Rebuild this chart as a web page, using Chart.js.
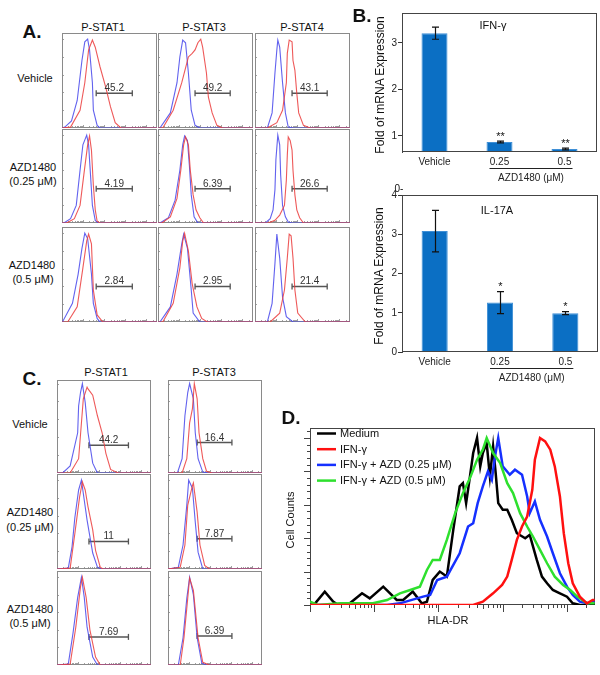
<!DOCTYPE html>
<html><head><meta charset="utf-8">
<script src="https://cdn.jsdelivr.net/npm/chart.js@4.4.1/dist/chart.umd.min.js"></script>
<style>
html,body{margin:0;padding:0;background:#fff}
body{position:relative;width:600px;height:675px;overflow:hidden;font-family:"Liberation Sans",Arial,sans-serif}
canvas{position:absolute}
.t{position:absolute;transform:translate(-50%,-50%);white-space:nowrap;line-height:1;color:#111}
</style></head><body>
<script>
const F='"Liberation Sans", Arial, sans-serif';
Chart.defaults.font.family=F;

// ---------------- Panel A (flow histograms; x = % of axis, y = % of peak) ----------------
const aColTitles=['P-STAT1','P-STAT3','P-STAT4'];
const aRowTitles=[['Vehicle'],['AZD1480','(0.25 μM)'],['AZD1480','(0.5 μM)']];
const aPct=['45.2','49.2','43.1','4.19','6.39','26.6','2.84','2.95','21.4'];
const aGates=[[36,74,39],[39,76,39],[39,76,39],[36,74,39],[39,76,39],[39,76,39],[36,74,40],[39,76,40],[39,76,40]];

const aVehS1Blue=[[0,0],[3,1],[10,8],[16,31],[21,76],[24,97],[27,100],[29,88],[32,51],[33,20],[37,3],[40,0],[100,0]];
const aVehS1Red=[[0,0],[9,1],[19,20],[24,51],[28,88],[32,99],[35,91],[40,69],[46,46],[51,24],[56,6],[62,0],[100,0]];
const aVehS3Blue=[[0,0],[2,0],[13,17],[20,51],[23,80],[26,99],[29,96],[32,62],[35,20],[39,3],[44,0],[100,0]];
const aVehS3Red=[[0,0],[5,0],[16,20],[25,51],[31,76],[32,80],[36,84],[39,88],[42,96],[45,100],[47,91],[51,62],[53,35],[57,17],[62,3],[68,0],[100,0]];
const aVehS4Blue=[[0,0],[13,0],[18,17],[21,62],[23,88],[24,99],[26,91],[29,51],[32,17],[35,1],[40,0],[100,0]];
const aVehS4Red=[[0,0],[13,0],[23,6],[29,20],[33,51],[34,84],[36,99],[39,97],[40,76],[42,65],[44,39],[46,17],[51,3],[58,0],[100,0]];
const aLowS1Blue=[[0,0],[2,0],[9,5],[15,20],[19,60],[22,89],[26,100],[28,89],[30,55],[32,20],[35,3],[38,0],[100,0]];
const aLowS1Red=[[0,0],[5,0],[13,5],[19,20],[23,55],[27,89],[29,99],[31,83],[33,43],[35,15],[37,2],[40,0],[100,0]];
const aLowS3Blue=[[0,0],[2,0],[11,6],[18,26],[23,60],[26,89],[28,99],[31,94],[33,66],[35,32],[38,7],[42,0],[100,0]];
const aLowS3Red=[[0,0],[4,0],[13,7],[20,28],[24,60],[27,89],[29,98],[32,89],[34,60],[37,32],[40,15],[44,6],[48,0],[100,0]];
const aLowS4Blue=[[0,0],[11,0],[16,5],[19,15],[21,38],[22,72],[24,100],[26,89],[27,55],[29,20],[32,7],[35,1],[39,0],[100,0]];
const aLowS4Red=[[0,0],[14,0],[21,3],[26,9],[31,20],[33,49],[34,77],[35,98],[37,94],[39,83],[40,60],[42,32],[44,15],[47,6],[51,0],[100,0]];
const aHighS1Blue=[[0,0],[1,1],[11,21],[17,54],[21,83],[24,100],[27,94],[31,54],[33,21],[37,4],[40,0],[100,0]];
const aHighS1Red=[[0,0],[6,0],[16,17],[22,61],[26,91],[28,99],[31,88],[33,36],[37,8],[43,0],[100,0]];
const aHighS3Blue=[[0,0],[2,0],[13,17],[20,54],[25,88],[27,99],[31,83],[35,36],[37,10],[44,0],[100,0]];
const aHighS3Red=[[0,0],[5,0],[16,21],[23,61],[26,91],[28,100],[32,80],[36,43],[41,17],[46,4],[52,0],[100,0]];
const aHighS4Blue=[[0,0],[13,0],[18,21],[21,66],[23,99],[26,72],[29,28],[33,6],[40,0],[100,0]];
const aHighS4Red=[[0,0],[16,0],[26,10],[31,36],[34,72],[36,99],[38,97],[40,72],[42,36],[45,10],[53,0],[100,0]];

// ---------------- Panel B (bar charts) ----------------
const barLabels=['Vehicle','0.25','0.5'];
const barGroup='AZD1480 (μM)';
const ifnVals=[3.21,0.87,0.72];
const ifnErr=[0.13,0.02,0.02];
const ifnStars=['','**','**'];
const ifnTicks=[1,2,3];
const il17Vals=[3.08,1.26,0.99];
const il17Err=[0.53,0.28,0.04];
const il17Stars=['','*','*'];
const il17Ticks=[0,1,2,3,4];

// ---------------- Panel C ----------------
const cColTitles=['P-STAT1','P-STAT3'];
const cRowTitles=[['Vehicle'],['AZD1480','(0.25 μM)'],['AZD1480','(0.5 μM)']];
const cPct=['44.2','16.4','11','7.87','7.69','6.39'];
const cGates=[[34,76,31],[31,68,34],[34,76,31],[31,68,34],[34,76,32],[31,68,33]];
const cVehS1Blue=[[0,0],[6,0],[14,8],[22,45],[23,75],[25,90],[27,100],[30,79],[33,45],[38,11],[43,0],[100,0]];
const cVehS1Red=[[0,0],[14,0],[23,16],[28,83],[32,96],[33,94],[38,87],[43,64],[48,45],[52,22],[57,4],[65,0],[100,0]];
const cVehS3Blue=[[0,0],[10,0],[15,16],[18,64],[21,90],[23,100],[27,83],[29,45],[32,16],[37,1],[43,0],[100,0]];
const cVehS3Red=[[0,0],[15,0],[20,16],[23,56],[26,72],[28,100],[31,83],[33,45],[37,16],[41,2],[47,0],[100,0]];
const cLowS1Blue=[[0,0],[12,1],[16,25],[19,58],[23,89],[26,100],[28,85],[32,55],[38,18],[43,2],[47,0],[100,0]];
const cLowS1Red=[[0,0],[14,1],[19,40],[24,81],[27,98],[30,89],[33,70],[38,44],[41,21],[46,2],[49,0],[100,0]];
const cLowS3Blue=[[0,0],[11,2],[16,27],[20,72],[22,100],[26,91],[29,53],[32,19],[37,0],[100,0]];
const cLowS3Red=[[0,0],[13,2],[18,27],[21,72],[26,94],[27,97],[31,64],[34,27],[39,4],[44,0],[100,0]];
const cHighS1Blue=[[0,0],[12,1],[17,36],[22,77],[26,100],[29,77],[32,43],[38,9],[43,0],[100,0]];
const cHighS1Red=[[0,0],[14,1],[20,43],[25,89],[27,100],[31,77],[35,40],[41,9],[46,0],[100,0]];
const cHighS3Blue=[[0,0],[11,0],[16,31],[20,76],[23,100],[27,80],[31,31],[36,2],[41,0],[100,0]];
const cHighS3Red=[[0,0],[13,0],[17,31],[21,76],[23,99],[27,85],[32,31],[37,3],[44,0],[100,0]];

// ---------------- Panel D (x = log10 HLA-DR, y = % of max) ----------------
const dLabels=['Medium','IFN-γ','IFN-γ + AZD (0.25 μM)','IFN-γ + AZD (0.5 μM)'];
const dMedium=[[0,0],[0.08,1],[0.23,8],[0.36,2],[0.44,0],[0.62,1],[0.81,7],[0.93,4],[1.14,11],[1.35,3],[1.45,3],[1.60,8],[1.74,1],[1.82,2],[1.91,15],[2.02,20],[2.13,17],[2.23,45],[2.33,71],[2.38,73],[2.43,61],[2.49,77],[2.54,91],[2.60,100],[2.65,83],[2.69,91],[2.75,97],[2.80,77],[2.85,95],[2.89,79],[2.93,61],[3.00,57],[3.07,57],[3.14,51],[3.22,43],[3.35,40],[3.42,42],[3.53,27],[3.61,17],[3.69,13],[3.78,9],[3.89,7],[4.00,5],[4.09,1],[4.20,0],[4.43,0]];
const dIfn=[[0,0],[2.54,0],[2.69,2],[2.85,7],[2.99,12],[3.07,17],[3.14,27],[3.22,39],[3.30,47],[3.38,53],[3.46,69],[3.50,87],[3.58,100],[3.66,98],[3.74,93],[3.81,83],[3.89,65],[3.95,43],[4.02,25],[4.09,13],[4.20,5],[4.31,1],[4.40,3],[4.43,3]];
const dAzd25=[[0,0],[1.20,0],[1.40,1],[1.76,5],[1.87,6],[1.98,15],[2.13,17],[2.33,31],[2.46,47],[2.54,49],[2.61,61],[2.69,71],[2.77,80],[2.83,75],[2.88,89],[2.93,100],[3.00,83],[3.11,78],[3.19,81],[3.30,78],[3.38,65],[3.42,55],[3.50,62],[3.58,51],[3.69,41],[3.78,31],[3.89,19],[4.00,11],[4.09,6],[4.20,2],[4.33,1],[4.40,2],[4.43,2]];
const dAzd50=[[0,2],[0.12,0],[0.47,1],[0.98,1],[1.20,3],[1.40,7],[1.56,9],[1.71,11],[1.82,21],[1.91,27],[2.02,27],[2.13,39],[2.26,55],[2.38,67],[2.49,76],[2.60,87],[2.69,93],[2.75,100],[2.85,91],[2.96,85],[3.07,73],[3.16,67],[3.27,55],[3.38,47],[3.47,41],[3.58,33],[3.69,25],[3.81,17],[3.94,12],[4.05,9],[4.16,5],[4.31,1],[4.40,1],[4.43,1]];

// ---------------- helpers ----------------
const P=a=>a.map(([x,y])=>({x,y}));
function mk(x,y,w,h){const c=document.createElement('canvas');c.width=w;c.height=h;Object.assign(c.style,{left:x+'px',top:y+'px',width:w+'px',height:h+'px'});document.body.appendChild(c);return c;}
function txt(s,cx,cy,size,extra){const d=document.createElement('div');d.className='t';d.textContent=s;d.style.left=cx+'px';d.style.top=cy+'px';d.style.fontSize=size+'px';if(extra)Object.assign(d.style,extra);document.body.appendChild(d);return d;}
const BLUE='rgba(70,70,235,0.85)', RED='rgba(235,60,60,0.85)';

const histPlugin={id:'histo',
 beforeDatasetsDraw(ch){const {ctx,chartArea:a}=ch;const xs=ch.scales.x,ys=ch.scales.y;ctx.save();
  ctx.strokeStyle='#a0a0a0';ctx.lineWidth=1;
  for(let n=0;n<5;n++)for(let m=1;m<10;m++){const v=(n+Math.log10(m))/4.5*100;if(v>100)continue;const px=Math.round(xs.getPixelForValue(v))+0.5;const L=m===1?3:2;ctx.beginPath();ctx.moveTo(px,a.bottom);ctx.lineTo(px,a.bottom-L);ctx.stroke();}
  for(let v=20;v<=100;v+=20){const py=Math.round(ys.getPixelForValue(v))+0.5;ctx.beginPath();ctx.moveTo(a.left,py);ctx.lineTo(a.left+2,py);ctx.stroke();}
  ctx.strokeStyle='#8a8a8a';ctx.strokeRect(a.left+0.5,a.top+0.5,a.width-1,a.height-1);ctx.restore();},
 afterDatasetsDraw(ch,args,o){const g=ch.data.datasets[2].data;const xs=ch.scales.x,ys=ch.scales.y;const ctx=ch.ctx;ctx.save();
  ctx.font='10px '+F;ctx.fillStyle='#333';ctx.textAlign='center';ctx.textBaseline='alphabetic';
  ctx.fillText(o.pct,xs.getPixelForValue((g[0].x+g[1].x)/2),ys.getPixelForValue(g[0].y)-2);ctx.restore();}
};
function hist(x,y,w,h,ymax,blue,red,gate,pct){
 const cv=mk(x,y,w,h);
 new Chart(cv,{type:'line',data:{datasets:[
   {data:P(red),borderColor:RED,borderWidth:1.1,pointRadius:0,tension:0},
   {data:P(blue),borderColor:BLUE,borderWidth:1.1,pointRadius:0,tension:0},
   {data:[{x:gate[0],y:gate[2]},{x:gate[1],y:gate[2]}],borderColor:'#555',borderWidth:1.5,pointStyle:'line',pointRadius:3,pointRotation:90,pointBorderColor:'#555',pointBorderWidth:1.3}
 ]},options:{responsive:false,animation:false,events:[],layout:{padding:0,autoPadding:false},
   scales:{x:{type:'linear',display:false,min:0,max:100},y:{display:false,min:0,max:ymax}},
   plugins:{legend:{display:false},tooltip:{enabled:false},histo:{pct}}},plugins:[histPlugin]});
}

// ---- Panel A layout ----
const aBlue=[aVehS1Blue,aVehS3Blue,aVehS4Blue,aLowS1Blue,aLowS3Blue,aLowS4Blue,aHighS1Blue,aHighS3Blue,aHighS4Blue];
const aRed=[aVehS1Red,aVehS3Red,aVehS4Red,aLowS1Red,aLowS3Red,aLowS4Red,aHighS1Red,aHighS3Red,aHighS4Red];
const aX=[62,158,255],aY=[33,129,227],aH=[95,94,95];
for(let r=0;r<3;r++)for(let c=0;c<3;c++){const i=r*3+c;hist(aX[c],aY[r],95,aH[r],107,aBlue[i],aRed[i],aGates[i],aPct[i]);}
txt('A.',32,31,19,{fontWeight:'bold'});
[103,204,302].forEach((cx,i)=>txt(aColTitles[i],cx,27,11));
txt(aRowTitles[0][0],35,78,11);
txt(aRowTitles[1][0],33,167,11);txt(aRowTitles[1][1],33,181,11);
txt(aRowTitles[2][0],32,265,11);txt(aRowTitles[2][1],33,279,11);

// ---- Panel C layout ----
const cBlue=[cVehS1Blue,cVehS3Blue,cLowS1Blue,cLowS3Blue,cHighS1Blue,cHighS3Blue];
const cRed=[cVehS1Red,cVehS3Red,cLowS1Red,cLowS3Red,cHighS1Red,cHighS3Red];
const cX=[57,168],cY=[380,474,571],cH=[93,95,94],cMax=[104,107,107];
for(let r=0;r<3;r++)for(let c=0;c<2;c++){const i=r*2+c;hist(cX[c],cY[r],94,cH[r],cMax[r],cBlue[i],cRed[i],cGates[i],cPct[i]);}
txt('C.',32,378,19,{fontWeight:'bold'});
[106,214].forEach((cx,i)=>txt(cColTitles[i],cx,372,11));
txt(cRowTitles[0][0],30,424,11);
txt(cRowTitles[1][0],30,512,11);txt(cRowTitles[1][1],30,527,11);
txt(cRowTitles[2][0],30,609,11);txt(cRowTitles[2][1],30,623,11);

// ---- Panel B ----
const barPlugin={id:'barx',
 afterDatasetsDraw(ch,args,o){const {ctx,chartArea:a}=ch;const xs=ch.scales.x,ys=ch.scales.y;const vals=ch.data.datasets[0].data;ctx.save();
  ctx.strokeStyle='#444';ctx.lineWidth=1;ctx.strokeRect(a.left+0.5,a.top+0.5,a.width-1,a.height-1);
  vals.forEach((v,i)=>{const e=o.errs[i];const px=Math.round(xs.getPixelForValue(i))+0.5;const t=ys.getPixelForValue(v+e),b=ys.getPixelForValue(v-e);
   ctx.strokeStyle='#111';ctx.lineWidth=1.2;ctx.beginPath();ctx.moveTo(px,t);ctx.lineTo(px,b);ctx.moveTo(px-3.5,t);ctx.lineTo(px+3.5,t);ctx.moveTo(px-3.5,b);ctx.lineTo(px+3.5,b);ctx.stroke();
   if(o.stars[i]){ctx.fillStyle='#111';ctx.font='11px '+F;ctx.textAlign='center';ctx.textBaseline='alphabetic';ctx.fillText(o.stars[i],px,t-1.5);}});
  const x1=xs.getPixelForValue(1)-10,x2=xs.getPixelForValue(2)+8;
  ctx.strokeStyle='#222';ctx.lineWidth=1.2;ctx.beginPath();ctx.moveTo(x1,a.bottom+16.5);ctx.lineTo(x2,a.bottom+16.5);ctx.stroke();
  ctx.fillStyle='#222';ctx.font='10px '+F;ctx.textAlign='center';ctx.textBaseline='middle';ctx.fillText(o.group,(x1+x2)/2,a.bottom+26);
  ctx.restore();}};
function barChart(x,y,w,h,area,vals,errs,stars,ymin,ymax,yticks){
 const cv=mk(x,y,w,h);
 new Chart(cv,{type:'bar',data:{labels:barLabels,datasets:[{data:vals,backgroundColor:'#0b6fc4',borderColor:'#3f8fd6',borderWidth:1,barPercentage:0.4,categoryPercentage:1}]},
  options:{responsive:false,animation:false,events:[],layout:{padding:{top:area.top,right:w-area.right,left:0,bottom:0},autoPadding:false},
   scales:{
    x:{grid:{display:false,drawTicks:false},border:{display:false},ticks:{font:{size:10},color:'#222',padding:4},afterFit:s=>{s.height=h-area.bottom;}},
    y:{min:ymin,max:ymax,afterBuildTicks:s=>{s.ticks=yticks.map(v=>({value:v}));},grid:{drawOnChartArea:false,tickLength:4,color:'#333'},border:{color:'#444'},ticks:{font:{size:10},color:'#222',padding:1},afterFit:s=>{s.width=area.left;}}},
   plugins:{legend:{display:false},tooltip:{enabled:false},barx:{errs,stars,group:barGroup}}},plugins:[barPlugin]});
}
barChart(360,0,240,200,{left:42,top:13,right:237,bottom:152},ifnVals,ifnErr,ifnStars,0.655,3.645,ifnTicks);
barChart(360,185,240,205,{left:42,top:10,right:238,bottom:167},il17Vals,il17Err,il17Stars,0,4,il17Ticks);
txt('B.',362,15,19,{fontWeight:'bold'});
txt('IFN-γ',493,25,11);
txt('IL-17A',497,210,11);
txt('Fold of mRNA Expression',380,85,12,{transform:'translate(-50%,-50%) rotate(-90deg)'});
txt('Fold of mRNA Expression',379,276,12,{transform:'translate(-50%,-50%) rotate(-90deg)'});
txt('0-',399,189,10);

// ---- Panel D ----
const dPlugin={id:'dax',
 beforeDatasetsDraw(ch){const {ctx,chartArea:a}=ch;const xs=ch.scales.x,ys=ch.scales.y;ctx.save();ctx.strokeStyle='#444';ctx.lineWidth=1;
  ctx.strokeRect(a.left+0.5,a.top+0.5,a.width-1,a.height-1);
  for(let n=0;n<5;n++)for(let m=1;m<10;m++){const v=n+Math.log10(m);if(v>xs.max)continue;const px=Math.round(xs.getPixelForValue(v))+0.5;const L=m===1?7:(m===5?4:3);ctx.beginPath();ctx.moveTo(px,a.bottom);ctx.lineTo(px,a.bottom+L);ctx.stroke();}
  for(let v=0;v<=104;v+=4){const py=Math.round(ys.getPixelForValue(v))+0.5;const L=v%20===0?6:3;ctx.beginPath();ctx.moveTo(a.left-L,py);ctx.lineTo(a.left,py);ctx.stroke();}
  ctx.restore();},
 afterDatasetsDraw(ch){const {ctx,chartArea:a}=ch;ctx.save();ctx.font='11px '+F;ctx.textBaseline='middle';ctx.textAlign='left';
  ch.data.datasets.forEach((d,i)=>{const y=a.top+5.5+i*15.7;ctx.strokeStyle=d.borderColor;ctx.lineWidth=2.5;ctx.beginPath();ctx.moveTo(a.left+7,y);ctx.lineTo(a.left+26,y);ctx.stroke();ctx.fillStyle='#111';ctx.fillText(d.label,a.left+30,y+0.5);});
  ctx.restore();}};
const cvD=mk(280,420,320,215);
new Chart(cvD,{type:'line',data:{datasets:[
  {label:dLabels[0],data:P(dMedium),borderColor:'#000000',borderWidth:2.5,pointRadius:0,tension:0,order:3},
  {label:dLabels[1],data:P(dIfn),borderColor:'#ff1010',borderWidth:2.5,pointRadius:0,tension:0,order:0},
  {label:dLabels[2],data:P(dAzd25),borderColor:'#1530ff',borderWidth:2.5,pointRadius:0,tension:0,order:2},
  {label:dLabels[3],data:P(dAzd50),borderColor:'#2ee02e',borderWidth:2.5,pointRadius:0,tension:0,order:1}
 ]},options:{responsive:false,animation:false,events:[],layout:{padding:{left:30,top:8,right:5,bottom:30},autoPadding:false},
  scales:{x:{type:'linear',display:false,min:0,max:4.436},y:{display:false,min:0,max:106}},
  plugins:{legend:{display:false},tooltip:{enabled:false}}},plugins:[dPlugin]});
txt('D.',291,417,19,{fontWeight:'bold'});
txt('Cell Counts',290,520,11,{transform:'translate(-50%,-50%) rotate(-90deg)'});
txt('HLA-DR',448,620,11);
</script>
</body></html>
